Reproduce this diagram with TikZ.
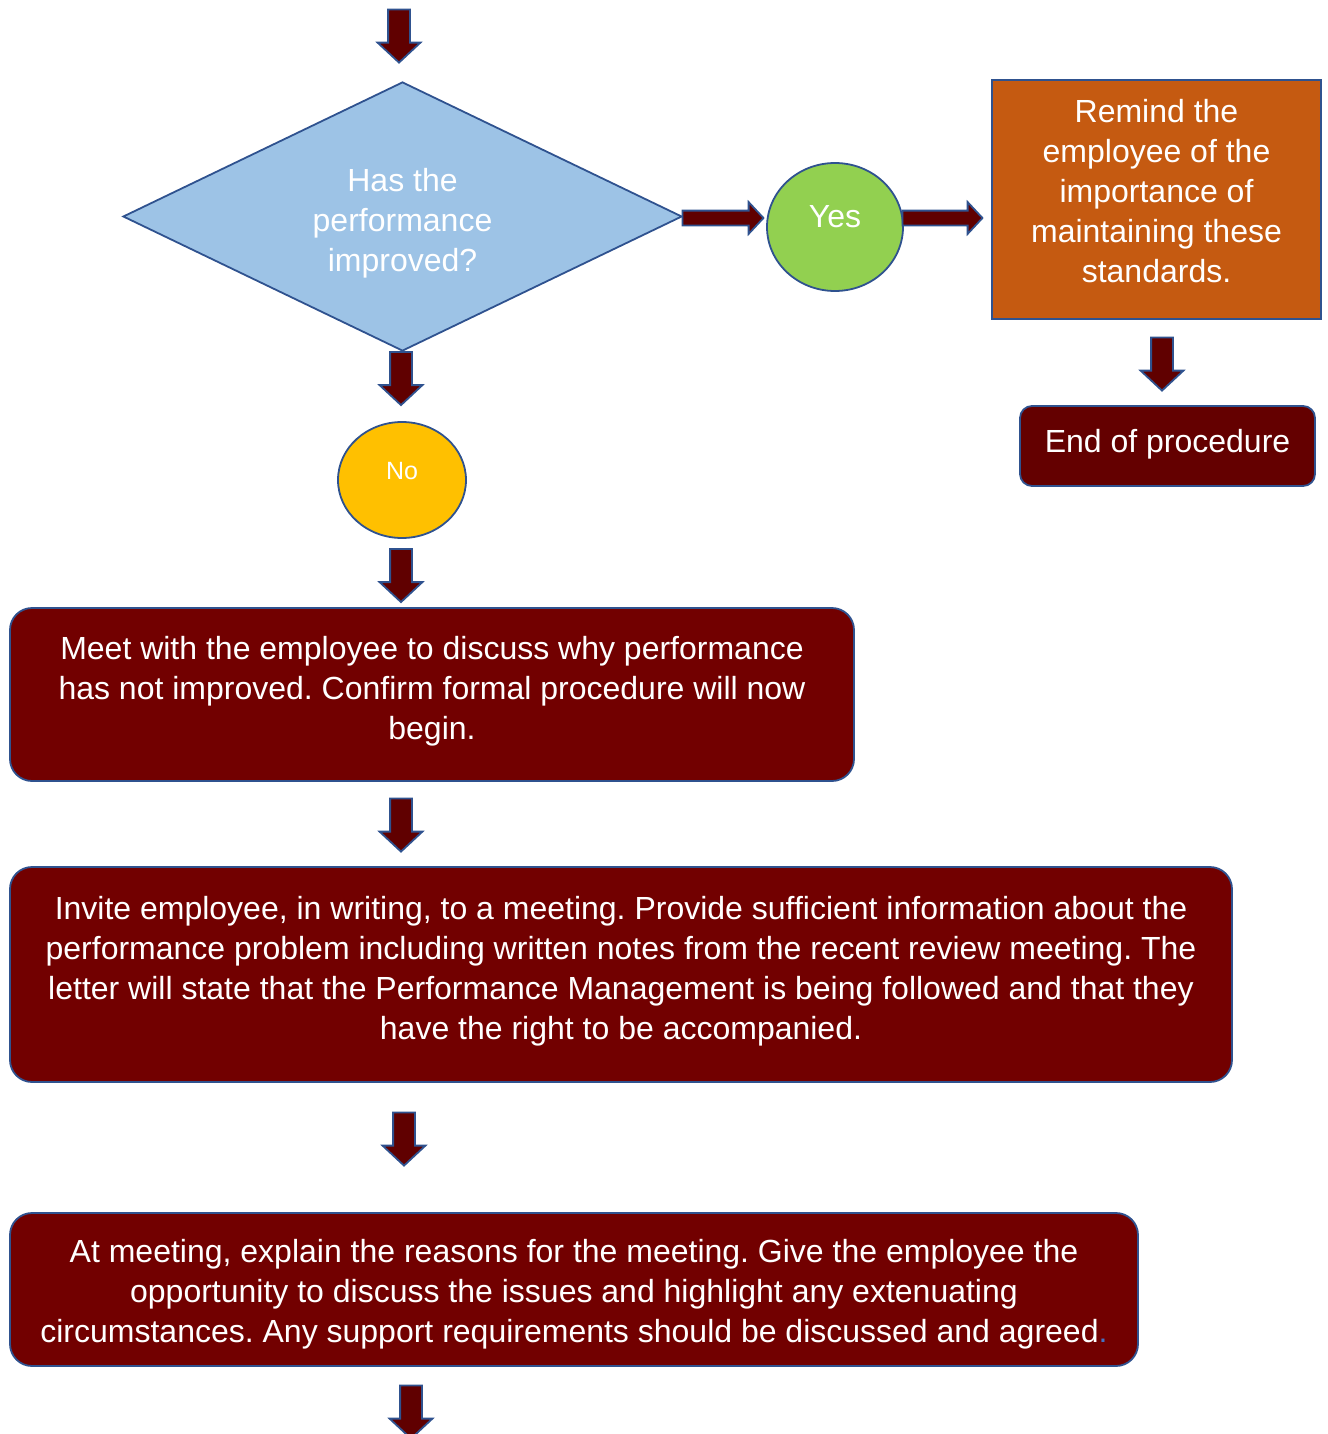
\documentclass[tikz,border=0pt]{standalone}
\usepackage{fontspec}
\setmainfont{Liberation Sans}
\frenchspacing
\usetikzlibrary{shapes.geometric,shapes.arrows}
\definecolor{edgeblue}{HTML}{2F528F}
\definecolor{arrowred}{HTML}{600000}
\definecolor{boxred}{HTML}{720000}
\definecolor{endred}{HTML}{640000}
\definecolor{qblue}{HTML}{9DC3E6}
\definecolor{yesgreen}{HTML}{92D050}
\definecolor{noyellow}{HTML}{FFC000}
\definecolor{remindorange}{HTML}{C55A11}
\definecolor{dotblue}{HTML}{4472C4}
\begin{document}
\begin{tikzpicture}[x=1pt,y=-1pt,
  every node/.style={font=\fontsize{32}{40}\selectfont, text=white, align=center},
  downarrow/.style={single arrow, draw=edgeblue, fill=arrowred, line width=1.8pt,
    inner sep=10pt, minimum width=0pt, minimum height=53pt,
    single arrow head extend=10.5pt, single arrow tip angle=94, rotate=-90},
  rightarrow/.style={single arrow, draw=edgeblue, fill=arrowred, line width=1.8pt,
    inner sep=6.5pt, minimum width=0pt, minimum height=81pt,
    single arrow head extend=8.5pt, single arrow tip angle=94},
  stepbox/.style={rectangle, rounded corners=22pt, draw=edgeblue, fill=boxred,
    line width=1.8pt, inner sep=0pt},
]
\useasboundingbox (0,0) rectangle (1327,1434);

% decision
\node[downarrow] (in) at (399,31) {};
\node[diamond, aspect=2.08, draw=edgeblue, fill=qblue, line width=1.8pt, inner sep=0pt,
      minimum width=559pt, minimum height=269pt] (q) at (402.5,216.5) {};
\node at (402.5,223.5) {Has the\\performance\\improved?};

% yes branch
\node[rightarrow] (ya) at (719.5,218) {};
\node[ellipse, draw=edgeblue, fill=yesgreen, line width=1.8pt, inner sep=0pt,
      minimum width=136pt, minimum height=128pt] (yes) at (835,227) {};
\node at (835,217) {Yes};
\node[rightarrow, minimum height=80pt] (yb) at (939,218) {};
\node[rectangle, draw=edgeblue, fill=remindorange, line width=1.8pt, inner sep=0pt,
      minimum width=329pt, minimum height=239pt] (remind) at (1156.5,199.5) {};
\node at (1156.5,191) {Remind the\\employee of the\\importance of\\maintaining these\\standards.};
\node[downarrow] (ea) at (1162,359) {};
\node[rectangle, rounded corners=12pt, draw=edgeblue, fill=endred, line width=1.8pt,
      inner sep=0pt, minimum width=295pt, minimum height=80pt] (end) at (1167.5,446) {};
\node at (1167.5,444.5) {End of procedure};

% no branch
\node[downarrow] (na) at (401,373.5) {};
\node[ellipse, draw=edgeblue, fill=noyellow, line width=1.8pt, inner sep=0pt,
      minimum width=128pt, minimum height=116pt] (no) at (402,480) {};
\node[font=\fontsize{25}{30}\selectfont] at (402,471) {No};
\node[downarrow] (nb) at (401,570.5) {};

% formal procedure steps
\node[stepbox, minimum width=844pt, minimum height=173pt] (meet) at (432,694.5) {};
\node at (432,691) {Meet with the employee to discuss why performance\\has not improved. Confirm formal procedure will now\\begin.};
\node[downarrow] (mb) at (401,820) {};
\node[stepbox, minimum width=1222pt, minimum height=215pt] (invite) at (621,974.5) {};
\node at (621,971) {Invite employee, in writing, to a meeting. Provide sufficient information about the\\performance problem including written notes from the recent review meeting. The\\letter will state that the Performance Management is being followed and that they\\have the right to be accompanied.};
\node[downarrow] (ib) at (404,1134) {};
\node[stepbox, minimum width=1128pt, minimum height=153pt] (explain) at (574,1289.5) {};
\node at (574,1294) {At meeting, explain the reasons for the meeting. Give the employee the\\opportunity to discuss the issues and highlight any extenuating\\circumstances. Any support requirements should be discussed and agreed{\color{dotblue}.}};
\node[downarrow] (out) at (411,1407) {};
\end{tikzpicture}
\end{document}
